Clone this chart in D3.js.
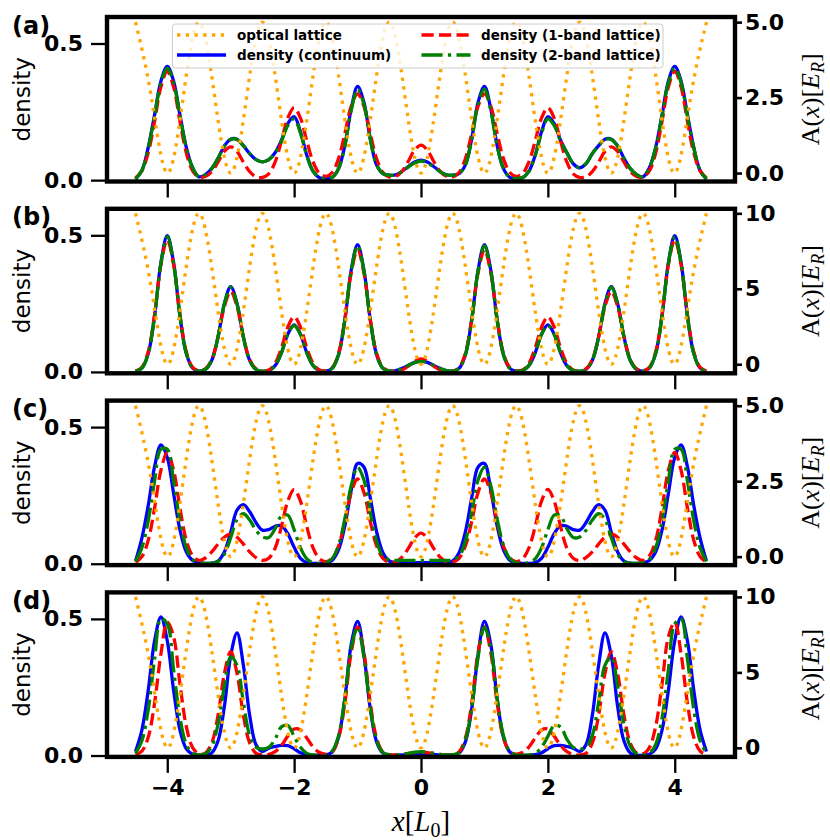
<!DOCTYPE html>
<html lang="en">
<head>
<meta charset="utf-8">
<title>Lattice densities</title>
<script src="https://cdn.jsdelivr.net/npm/d3@7"></script>
<style>
  body { margin: 0; background: #fff; }
  svg { display: block; background: #fff; }
  .tick-label { font-family: "DejaVu Sans", sans-serif; font-weight: bold; font-size: 22px; fill: #000; }
  .ylabel { font-family: "DejaVu Sans", sans-serif; font-size: 23px; fill: #000; }
  .tag { font-family: "DejaVu Sans", sans-serif; font-weight: bold; font-size: 24px; fill: #000; }
  .math { font-family: "Liberation Serif", "DejaVu Serif", serif; fill: #000; }
  .legend text { font-family: "DejaVu Sans", sans-serif; font-weight: bold; font-size: 13.5px; fill: #000; }
</style>
</head>
<body>
<div id="chart"></div>
<script>
// x grid of the density curves (step 0.1)
const xs = [-4.5,-4.4,-4.3,-4.2,-4.1,-4.0,-3.9,-3.8,-3.7,-3.6,-3.5,-3.4,-3.3,-3.2,-3.1,-3.0,-2.9,-2.8,-2.7,-2.6,
  -2.5,-2.4,-2.3,-2.2,-2.1,-2.0,-1.9,-1.8,-1.7,-1.6,-1.5,-1.4,-1.3,-1.2,-1.1,-1.0,-0.9,-0.8,-0.7,-0.6,
  -0.5,-0.4,-0.3,-0.2,-0.1,0.0,0.1,0.2,0.3,0.4,0.5,0.6,0.7,0.8,0.9,1.0,1.1,1.2,1.3,1.4,
  1.5,1.6,1.7,1.8,1.9,2.0,2.1,2.2,2.3,2.4,2.5,2.6,2.7,2.8,2.9,3.0,3.1,3.2,3.3,3.4,
  3.5,3.6,3.7,3.8,3.9,4.0,4.1,4.2,4.3,4.4,4.5];

// optical lattice samples (step 0.25)
const latticeX = [-4.5,-4.25,-4.0,-3.75,-3.5,-3.25,-3.0,-2.75,-2.5,-2.25,-2.0,-1.75,-1.5,-1.25,-1.0,-0.75,
  -0.5,-0.25,0.0,0.25,0.5,0.75,1.0,1.25,1.5,1.75,2.0,2.25,2.5,2.75,3.0,3.25,3.5,3.75,4.0,4.25,4.5];
const lattice5 = [5,2.5,0,2.5, 5,2.5,0,2.5, 5,2.5,0,2.5, 5,2.5,0,2.5, 5,2.5,0,2.5,
  5,2.5,0,2.5, 5,2.5,0,2.5, 5,2.5,0,2.5, 5,2.5,0,2.5, 5];
const lattice10 = [10,5,0,5, 10,5,0,5, 10,5,0,5, 10,5,0,5, 10,5,0,5,
  10,5,0,5, 10,5,0,5, 10,5,0,5, 10,5,0,5, 10];

// panel (a)
const aCont = [0.004,0.035,0.12,0.239,0.362,0.416,0.362,0.239,0.12,0.045,0.012,0.02,0.042,0.08,0.125,0.15,0.15,0.126,0.097,0.075,
  0.067,0.075,0.10,0.146,0.207,0.232,0.177,0.091,0.032,0.009,0.006,0.01,0.042,0.127,0.261,0.343,0.285,0.152,0.056,0.024,
  0.018,0.019,0.032,0.05,0.066,0.073,0.066,0.05,0.032,0.019,0.018,0.024,0.056,0.152,0.285,0.343,0.261,0.127,0.042,0.01,
  0.006,0.009,0.032,0.091,0.177,0.232,0.207,0.146,0.10,0.06,0.045,0.06,0.097,0.126,0.15,0.15,0.125,0.08,0.042,0.02,
  0.012,0.045,0.12,0.239,0.362,0.416,0.362,0.239,0.12,0.035,0.004];
const aOne = [0.008,0.034,0.10,0.215,0.341,0.398,0.341,0.215,0.10,0.034,0.011,0.013,0.031,0.066,0.105,0.122,0.105,0.066,0.031,0.012,
  0.01,0.023,0.066,0.143,0.227,0.265,0.227,0.143,0.066,0.024,0.014,0.028,0.079,0.171,0.271,0.316,0.271,0.171,0.079,0.028,
  0.012,0.014,0.032,0.069,0.11,0.128,0.11,0.069,0.032,0.014,0.012,0.028,0.079,0.171,0.271,0.316,0.271,0.171,0.079,0.028,
  0.014,0.024,0.066,0.143,0.227,0.265,0.227,0.143,0.066,0.023,0.01,0.012,0.031,0.066,0.105,0.122,0.105,0.066,0.031,0.013,
  0.011,0.034,0.10,0.215,0.341,0.398,0.341,0.215,0.10,0.034,0.008];
const aTwo = [0.004,0.035,0.118,0.235,0.356,0.41,0.356,0.235,0.118,0.045,0.012,0.02,0.042,0.08,0.124,0.149,0.149,0.126,0.097,0.075,
  0.067,0.075,0.10,0.143,0.2,0.224,0.172,0.09,0.032,0.009,0.006,0.01,0.042,0.125,0.255,0.333,0.278,0.15,0.056,0.024,
  0.018,0.019,0.031,0.048,0.063,0.07,0.063,0.048,0.031,0.019,0.018,0.024,0.056,0.15,0.278,0.333,0.255,0.125,0.042,0.01,
  0.006,0.009,0.032,0.09,0.172,0.224,0.2,0.143,0.10,0.06,0.045,0.06,0.097,0.126,0.149,0.149,0.124,0.08,0.042,0.02,
  0.012,0.045,0.118,0.235,0.356,0.41,0.356,0.235,0.118,0.035,0.004];

// panel (b)
const bCont = [0.002,0.014,0.067,0.205,0.40,0.499,0.40,0.205,0.068,0.014,0.003,0.009,0.042,0.128,0.25,0.312,0.25,0.128,0.042,0.009,
  0.002,0.005,0.023,0.07,0.138,0.172,0.138,0.07,0.023,0.005,0.003,0.013,0.063,0.191,0.373,0.466,0.373,0.191,0.063,0.013,
  0.003,0.005,0.013,0.024,0.035,0.04,0.035,0.024,0.013,0.005,0.003,0.013,0.063,0.191,0.373,0.466,0.373,0.191,0.063,0.013,
  0.003,0.005,0.023,0.07,0.138,0.172,0.138,0.07,0.023,0.005,0.002,0.009,0.042,0.128,0.25,0.312,0.25,0.128,0.042,0.009,
  0.003,0.014,0.068,0.205,0.40,0.499,0.40,0.205,0.067,0.014,0.002];
const bOne = [0.003,0.017,0.074,0.21,0.392,0.484,0.392,0.21,0.074,0.017,0.005,0.011,0.045,0.128,0.239,0.295,0.239,0.128,0.045,0.011,
  0.003,0.007,0.031,0.088,0.164,0.202,0.164,0.088,0.031,0.007,0.004,0.016,0.068,0.194,0.362,0.447,0.362,0.194,0.068,0.016,
  0.003,0.002,0.007,0.021,0.039,0.048,0.039,0.021,0.007,0.002,0.003,0.016,0.068,0.194,0.362,0.447,0.362,0.194,0.068,0.016,
  0.004,0.007,0.031,0.088,0.164,0.202,0.164,0.088,0.031,0.007,0.003,0.011,0.045,0.128,0.239,0.295,0.239,0.128,0.045,0.011,
  0.005,0.017,0.074,0.21,0.392,0.484,0.392,0.21,0.074,0.017,0.003];
const bTwo = [0.002,0.014,0.067,0.204,0.397,0.495,0.397,0.204,0.068,0.014,0.003,0.009,0.042,0.127,0.248,0.31,0.248,0.127,0.042,0.009,
  0.002,0.005,0.023,0.07,0.137,0.17,0.137,0.07,0.023,0.005,0.003,0.013,0.063,0.19,0.37,0.462,0.37,0.19,0.063,0.013,
  0.003,0.005,0.013,0.024,0.034,0.039,0.034,0.024,0.013,0.005,0.003,0.013,0.063,0.19,0.37,0.462,0.37,0.19,0.063,0.013,
  0.003,0.005,0.023,0.07,0.137,0.17,0.137,0.07,0.023,0.005,0.002,0.009,0.042,0.127,0.248,0.31,0.248,0.127,0.042,0.009,
  0.003,0.014,0.068,0.204,0.397,0.495,0.397,0.204,0.067,0.014,0.002];

// panel (c)
const cCont = [0.01,0.094,0.213,0.355,0.435,0.389,0.257,0.124,0.044,0.012,0.003,0.001,0.002,0.01,0.043,0.115,0.196,0.216,0.19,0.15,
  0.123,0.125,0.137,0.139,0.11,0.06,0.02,0.004,0.001,0.001,0.002,0.013,0.051,0.139,0.269,0.367,0.354,0.242,0.117,0.04,
  0.01,0.004,0.004,0.004,0.004,0.004,0.004,0.004,0.004,0.004,0.01,0.04,0.117,0.242,0.354,0.367,0.269,0.139,0.051,0.013,
  0.002,0.001,0.001,0.004,0.02,0.06,0.11,0.139,0.137,0.125,0.123,0.15,0.19,0.216,0.196,0.115,0.043,0.01,0.002,0.001,
  0.003,0.012,0.044,0.124,0.257,0.389,0.435,0.355,0.213,0.094,0.01];
const cOne = [0.005,0.026,0.086,0.204,0.342,0.407,0.342,0.204,0.086,0.029,0.012,0.021,0.043,0.072,0.097,0.108,0.097,0.072,0.043,0.022,
  0.012,0.02,0.057,0.136,0.229,0.272,0.229,0.136,0.057,0.018,0.008,0.02,0.065,0.155,0.261,0.31,0.261,0.155,0.065,0.02,
  0.006,0.007,0.024,0.056,0.094,0.112,0.094,0.056,0.024,0.007,0.006,0.02,0.065,0.155,0.261,0.31,0.261,0.155,0.065,0.02,
  0.008,0.018,0.057,0.136,0.229,0.272,0.229,0.136,0.057,0.02,0.012,0.022,0.043,0.072,0.097,0.108,0.097,0.072,0.043,0.021,
  0.012,0.029,0.086,0.204,0.342,0.407,0.342,0.204,0.086,0.026,0.005];
const cTwo = [0.008,0.059,0.157,0.303,0.419,0.419,0.303,0.157,0.059,0.016,0.004,0.001,0.002,0.008,0.035,0.095,0.162,0.183,0.16,0.122,
  0.098,0.096,0.128,0.175,0.178,0.125,0.058,0.018,0.004,0.001,0.003,0.019,0.067,0.165,0.286,0.353,0.307,0.189,0.083,0.027,
  0.015,0.012,0.012,0.012,0.012,0.012,0.012,0.012,0.012,0.012,0.015,0.027,0.083,0.189,0.307,0.353,0.286,0.165,0.067,0.019,
  0.003,0.001,0.004,0.018,0.058,0.125,0.178,0.175,0.128,0.096,0.098,0.122,0.16,0.183,0.162,0.095,0.035,0.008,0.002,0.001,
  0.004,0.016,0.059,0.157,0.303,0.419,0.419,0.303,0.157,0.059,0.008];

// panel (d)
const dCont = [0.015,0.093,0.239,0.42,0.507,0.42,0.239,0.093,0.025,0.005,0.001,0.001,0.009,0.053,0.179,0.365,0.449,0.33,0.146,0.039,
  0.015,0.027,0.033,0.037,0.036,0.025,0.01,0.003,0.001,0.001,0.002,0.013,0.067,0.209,0.407,0.491,0.37,0.172,0.05,0.009,
  0.002,0.001,0.002,0.004,0.006,0.006,0.006,0.004,0.002,0.001,0.002,0.009,0.05,0.172,0.37,0.491,0.407,0.209,0.067,0.013,
  0.002,0.001,0.001,0.003,0.01,0.025,0.036,0.037,0.033,0.027,0.015,0.039,0.146,0.33,0.449,0.365,0.179,0.053,0.009,0.001,
  0.001,0.005,0.025,0.093,0.239,0.42,0.507,0.42,0.239,0.093,0.015];
const dOne = [0.003,0.016,0.067,0.192,0.372,0.488,0.435,0.262,0.107,0.029,0.006,0.009,0.045,0.147,0.30,0.38,0.30,0.147,0.045,0.008,
  0.002,0.004,0.014,0.037,0.071,0.097,0.094,0.064,0.031,0.011,0.005,0.013,0.064,0.193,0.377,0.471,0.377,0.193,0.064,0.013,
  0.003,0.002,0.004,0.008,0.011,0.013,0.011,0.008,0.004,0.002,0.003,0.013,0.064,0.193,0.377,0.471,0.377,0.193,0.064,0.013,
  0.005,0.011,0.031,0.064,0.094,0.097,0.071,0.037,0.014,0.004,0.002,0.008,0.045,0.147,0.30,0.38,0.30,0.147,0.045,0.009,
  0.006,0.029,0.107,0.262,0.435,0.488,0.372,0.192,0.067,0.016,0.003];
const dTwo = [0.008,0.054,0.168,0.353,0.501,0.482,0.314,0.138,0.041,0.008,0.002,0.006,0.033,0.114,0.253,0.361,0.33,0.194,0.073,0.03,
  0.024,0.03,0.06,0.105,0.11,0.07,0.03,0.008,0.002,0.001,0.002,0.016,0.073,0.211,0.393,0.47,0.36,0.177,0.056,0.011,
  0.003,0.002,0.004,0.008,0.012,0.014,0.012,0.008,0.004,0.002,0.003,0.011,0.056,0.177,0.36,0.47,0.393,0.211,0.073,0.016,
  0.002,0.001,0.002,0.008,0.03,0.07,0.11,0.105,0.06,0.03,0.024,0.03,0.073,0.194,0.33,0.361,0.253,0.114,0.033,0.006,
  0.002,0.008,0.041,0.138,0.314,0.482,0.501,0.353,0.168,0.054,0.008];

const tags = ["(a)", "(b)", "(c)", "(d)"];
const xTicks = [-4, -2, 0, 2, 4];
const densityTicks = [0, 0.5];
const latticeTicks5 = [0, 2.5, 5];
const latticeTicks10 = [0, 5, 10];
const legendLabels = ["optical lattice", "density (continuum)", "density (1-band lattice)", "density (2-band lattice)"];

const panels = [
  {tag: tags[0], cont: aCont, one: aOne, two: aTwo, lattice: lattice5, ticks: latticeTicks5, fmt: d3.format(".1f"), dom: [-0.28, 5.17]},
  {tag: tags[1], cont: bCont, one: bOne, two: bTwo, lattice: lattice10, ticks: latticeTicks10, fmt: d3.format("d"), dom: [-0.6, 10.3]},
  {tag: tags[2], cont: cCont, one: cOne, two: cTwo, lattice: lattice5, ticks: latticeTicks5, fmt: d3.format(".1f"), dom: [-0.28, 5.17]},
  {tag: tags[3], cont: dCont, one: dOne, two: dTwo, lattice: lattice10, ticks: latticeTicks10, fmt: d3.format("d"), dom: [-0.6, 10.3]}
];

const W = 830, H = 840;
const left = 107, right = 735, top0 = 17, step = 191.8, ph = 164.5;
const lw = 3.3;
const styles = {
  lattice: {color: "orange", dash: "3.3,5.45"},
  cont: {color: "blue", dash: null},
  one: {color: "red", dash: "12.2,5.3"},
  two: {color: "green", dash: "21.1,5.3,3.3,5.3"}
};

const svg = d3.select("#chart").append("svg")
  .attr("width", W).attr("height", H);

const x = d3.scaleLinear().domain([-4.95, 4.95]).range([left, right]);

panels.forEach((p, i) => {
  const top = top0 + i * step, bottom = top + ph;
  const yD = d3.scaleLinear().domain([-0.005, 0.597]).range([bottom, top]);
  const yA = d3.scaleLinear().domain(p.dom).range([bottom, top]);
  const g = svg.append("g");

  g.append("clipPath").attr("id", "clip" + i)
    .append("rect").attr("x", left).attr("y", top).attr("width", right - left).attr("height", ph);

  const plotG = g.append("g").attr("clip-path", `url(#clip${i})`);

  const dens = d3.line().x((d, j) => x(xs[j])).y(d => yD(d)).curve(d3.curveCatmullRom.alpha(0.5));
  ["cont", "one", "two"].forEach(k => {
    plotG.append("path")
      .attr("d", dens(p[k]))
      .attr("fill", "none")
      .attr("stroke", styles[k].color)
      .attr("stroke-width", lw)
      .attr("stroke-dasharray", styles[k].dash);
  });

  const lat = d3.line().x((d, j) => x(latticeX[j])).y(d => yA(d)).curve(d3.curveNatural);
  plotG.append("path")
    .attr("d", lat(p.lattice))
    .attr("fill", "none")
    .attr("stroke", styles.lattice.color)
    .attr("stroke-width", lw)
    .attr("stroke-dasharray", styles.lattice.dash);

  // axes
  const ax = g.append("g").attr("transform", `translate(${left},0)`)
    .call(d3.axisLeft(yD).tickValues(densityTicks).tickFormat(d3.format(".1f")).tickSize(16).tickPadding(8));
  const axR = g.append("g").attr("transform", `translate(${right},0)`)
    .call(d3.axisRight(yA).tickValues(p.ticks).tickFormat(p.fmt).tickSize(7).tickPadding(3));
  const axB = g.append("g").attr("transform", `translate(0,${bottom})`)
    .call(d3.axisBottom(x).tickValues(xTicks).tickFormat(i === 3 ? d3.format("d") : () => "").tickSize(16).tickPadding(6));
  [ax, axR, axB].forEach(a => {
    a.select(".domain").remove();
    a.selectAll("line").attr("stroke-width", 2.3);
    a.selectAll("text").attr("class", "tick-label");
  });
  axR.selectAll("line").attr("stroke-width", 2.6);

  g.append("rect")
    .attr("x", left).attr("y", top).attr("width", right - left).attr("height", ph)
    .attr("fill", "none").attr("stroke", "#000").attr("stroke-width", 4.4);

  g.append("text").attr("class", "ylabel")
    .attr("transform", `translate(30,${(top + bottom) / 2}) rotate(-90)`)
    .attr("text-anchor", "middle").text("density");

  const rl = g.append("text").attr("class", "math").attr("font-size", 26)
    .attr("transform", `translate(819,${(top + bottom) / 2}) rotate(-90)`)
    .attr("text-anchor", "middle");
  rl.append("tspan").text("A(");
  rl.append("tspan").attr("font-style", "italic").text("x");
  rl.append("tspan").text(")[");
  rl.append("tspan").attr("font-style", "italic").text("E");
  rl.append("tspan").attr("font-style", "italic").attr("font-size", 18).attr("dy", 5).text("R");
  rl.append("tspan").attr("dy", -5).text("]");

  g.append("text").attr("class", "tag").attr("x", 12).attr("y", top + 16.5).text(p.tag);

  if (i === 0) {
    const lg = g.append("g").attr("class", "legend");
    lg.append("rect").attr("x", 172.5).attr("y", 24).attr("width", 490.5).attr("height", 44).attr("rx", 3)
      .attr("fill", "#fff").attr("fill-opacity", 0.8).attr("stroke", "#cccccc").attr("stroke-width", 1);
    const keys = ["lattice", "cont", "one", "two"];
    keys.forEach((k, n) => {
      const col = Math.floor(n / 2), row = n % 2;
      const hx = [177, 421.5][col], tx = [237, 481][col], yy = 35 + row * 20;
      lg.append("line").attr("x1", hx).attr("x2", hx + 49).attr("y1", yy).attr("y2", yy)
        .attr("stroke", styles[k].color).attr("stroke-width", lw).attr("stroke-dasharray", styles[k].dash);
      lg.append("text").attr("x", tx).attr("y", yy).attr("dominant-baseline", "central").text(legendLabels[n]);
    });
  }
});

const xl = svg.append("text").attr("class", "math").attr("font-size", 29)
  .attr("x", (left + right) / 2).attr("y", 831).attr("text-anchor", "middle");
xl.append("tspan").attr("font-style", "italic").text("x");
xl.append("tspan").text("[");
xl.append("tspan").attr("font-style", "italic").text("L");
xl.append("tspan").attr("font-size", 20).attr("dy", 6).text("0");
xl.append("tspan").attr("dy", -6).text("]");
</script>
</body>
</html>
